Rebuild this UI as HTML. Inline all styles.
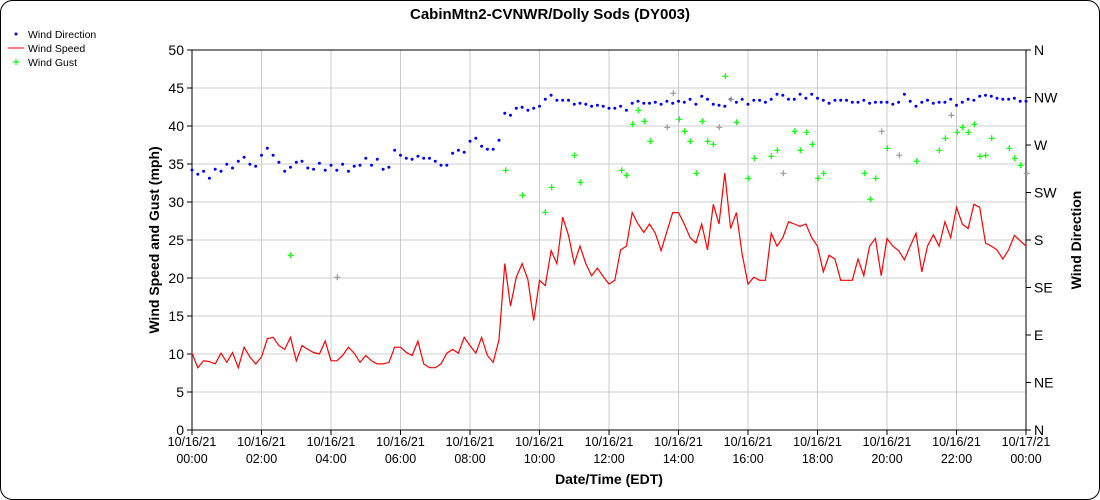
<!DOCTYPE html>
<html><head><meta charset="utf-8"><style>
html,body{margin:0;padding:0;background:#fff}
svg{display:block;font-family:"Liberation Sans",sans-serif}
</style></head><body>
<svg id="s" width="1100" height="500" xmlns="http://www.w3.org/2000/svg"></svg>
<script>
const L=192,R=1026,T=50,B=430;
const sp=[10.1,8.2,9.1,9.0,8.7,10.1,8.9,10.2,8.2,10.9,9.6,8.7,9.6,12,12.2,11.1,10.6,12.2,9.1,11.1,10.6,10.2,10,11.7,9.1,9.1,9.8,10.9,10.1,8.9,9.8,9.1,8.7,8.7,8.9,10.9,10.9,10.2,9.8,11.7,8.7,8.2,8.2,8.7,10.1,10.6,10.1,12.2,11.1,10.1,12.2,9.8,8.9,11.9,21.9,16.3,20.1,21.9,19.8,14.4,19.7,19,23.6,21.9,28,25.6,21.9,24.2,21.9,20.3,21.3,20.2,19.2,19.7,23.7,24.2,28.6,27.1,26,27.1,25.9,23.6,26.1,28.6,28.6,27.1,25.3,24.6,27.1,23.7,29.7,27.1,33.8,26.5,28.6,23.1,19.2,20.1,19.7,19.7,25.9,24.2,25.3,27.4,27.1,26.8,27.1,25.3,24.2,20.8,23,22.5,19.7,19.7,19.7,22.5,20.3,24.2,25.2,20.3,25.2,24.2,23.6,22.4,24.2,25.9,20.8,24.2,25.7,24.2,27.4,25.3,29.3,27.1,26.5,29.7,29.3,24.6,24.2,23.7,22.5,23.7,25.6,24.9,24.2];
const d1=[390,403,394,415,388,394,373,384,364,352,373,379,346,325,346,367,394,382,367,364,384,388,370,391,376,391,373,394,379,376,355,376,358,388,382,331,346,355,358,349,355,355,364,376,376,340,331,337,304,295,319,328,328,301,220,226,205,202,211,205,199,178,166,181,181,181,193,190,193,199,196,199,205].map(z=>40+z/3);
const d2=[205,199,211,190,184,190,190,187,193,184,190,184,187,178,193,169,178,193,196,199,178,187,178,193,181,181,187,178,163,166,178,178,163,175,163,175,181,190,181,181,181,187,187,181,190,187,187,187,193,187,163,184,199,187,181,190,187,187,178,196,187,178,181,169,166,169,175,178,178,175,184,184].map(z=>40+z/3);
const dir=d1.concat(d2);
const g=[[290.7,255.3],[505.7,170.3],[522.3,195.3],[545.3,212.3],[551.7,187.3],[574.3,155.3],[580.3,182.3],[621.7,170.3],[626.7,175.3],[632.7,124.3],[638.3,110.3],[644.3,121.3],[650.3,141.3],[679.3,119.3],[684.7,131.3],[690.3,141.3],[696.3,173.3],[702.3,121.3],[707.7,141.3],[713.3,144.3],[725.3,76.3],[736.7,122.3],[748.3,178.3],[754.3,158.3],[771.3,156.3],[777.3,150.3],[794.7,131.3],[800.3,150.3],[806.3,132.3],[812.3,144.3],[818,178.3],[823.7,173.3],[864.7,173.3],[870.3,199.3],[875.7,178.3],[887.3,148.3],[916.7,161.3],[939.3,150.3],[945.3,138.3],[957.3,132.3],[962.7,127.3],[968.3,132.3],[974.3,124.3],[980,156.3],[985.7,155.3],[991.7,138.3],[1009.3,148.3],[1014.7,158.3],[1020.7,165.3]];
const gg=[[337.3,277.3],[673.3,93.3],[667.3,127.3],[719.3,127.3],[731,99.3],[783.3,173.3],[881.7,131.3],[899.3,155.3],[951.3,115.3],[1026.7,173.3]];
const xs=i=>L+i*(R-L)/144;
let h='<rect x="0.5" y="0.5" width="1099" height="499" rx="12" fill="#fff" stroke="#000"/>';
h+='<text x="550" y="19" text-anchor="middle" font-size="15" font-weight="bold">CabinMtn2-CVNWR/Dolly Sods (DY003)</text>';
// grid
for(let k=0;k<=10;k++){const y=B-k*38;h+=`<line x1="${L}" x2="${R}" y1="${y}" y2="${y}" stroke="#ccc"/>`;
h+=`<line x1="${L-5}" x2="${L}" y1="${y}" y2="${y}" stroke="#000"/><text x="${L-8}" y="${y+5}" text-anchor="end" font-size="14">${k*5}</text>`;}
for(let k=0;k<=12;k++){const x=L+k*(R-L)/12;h+=`<line x1="${x}" x2="${x}" y1="${T}" y2="${B}" stroke="#ccc"/><line x1="${x}" x2="${x}" y1="${B}" y2="${B+5}" stroke="#000"/>`;
const hh=(k*2)%24;const day=k==12?'10/17/21':'10/16/21';
h+=`<text x="${x}" y="${B+16}" text-anchor="middle" font-size="12.5">${day}</text><text x="${x}" y="${B+33}" text-anchor="middle" font-size="12.5">${String(hh).padStart(2,'0')}:00</text>`;}
const dl=['N','NE','E','SE','S','SW','W','NW','N'];
for(let k=0;k<=8;k++){const y=B-k*47.5;h+=`<line x1="${R}" x2="${R+5}" y1="${y}" y2="${y}" stroke="#000"/><text x="${R+8}" y="${y+5}" font-size="14">${dl[k]}</text>`;}
h+=`<line x1="${L}" x2="${L}" y1="${T}" y2="${B}" stroke="#000"/><line x1="${R}" x2="${R}" y1="${T}" y2="${B}" stroke="#000"/><line x1="${L}" x2="${R}" y1="${B}" y2="${B}" stroke="#000"/><line x1="${L}" x2="${R}" y1="${T}" y2="${T}" stroke="#000"/>`;
h+=`<polyline fill="none" stroke="#f00" stroke-width="1.2" points="${sp.map((v,i)=>xs(i).toFixed(1)+','+(B-v*7.6).toFixed(1)).join(' ')}"/>`;
dir.forEach((y,i)=>{h+=`<circle cx="${xs(i).toFixed(1)}" cy="${y.toFixed(1)}" r="1.5" fill="#00f"/>`;});
const plus=(x,y,c)=>`<path d="M${x-3} ${y}h6M${x} ${y-3}v6" stroke="${c}" stroke-width="1.2"/>`;
g.forEach(p=>h+=plus(p[0],p[1],'#0f0'));gg.forEach(p=>h+=plus(p[0],p[1],'#999'));
h+=`<text transform="translate(159,240) rotate(-90)" text-anchor="middle" font-size="14" font-weight="bold">Wind Speed and Gust (mph)</text>`;
h+=`<text transform="translate(1081,240) rotate(-90)" text-anchor="middle" font-size="14" font-weight="bold">Wind Direction</text>`;
h+=`<text x="609" y="484" text-anchor="middle" font-size="14" font-weight="bold">Date/Time (EDT)</text>`;
h+=`<circle cx="16" cy="34" r="1.5" fill="#00f"/><text x="28" y="38" font-size="10.5">Wind Direction</text>`;
h+=`<line x1="8" x2="24" y1="48" y2="48" stroke="#f00"/><text x="28" y="52" font-size="10.5">Wind Speed</text>`;
h+=plus(16,62,'#0f0')+`<text x="28" y="66" font-size="10.5">Wind Gust</text>`;
document.getElementById('s').innerHTML=h;
</script>
</body></html>
